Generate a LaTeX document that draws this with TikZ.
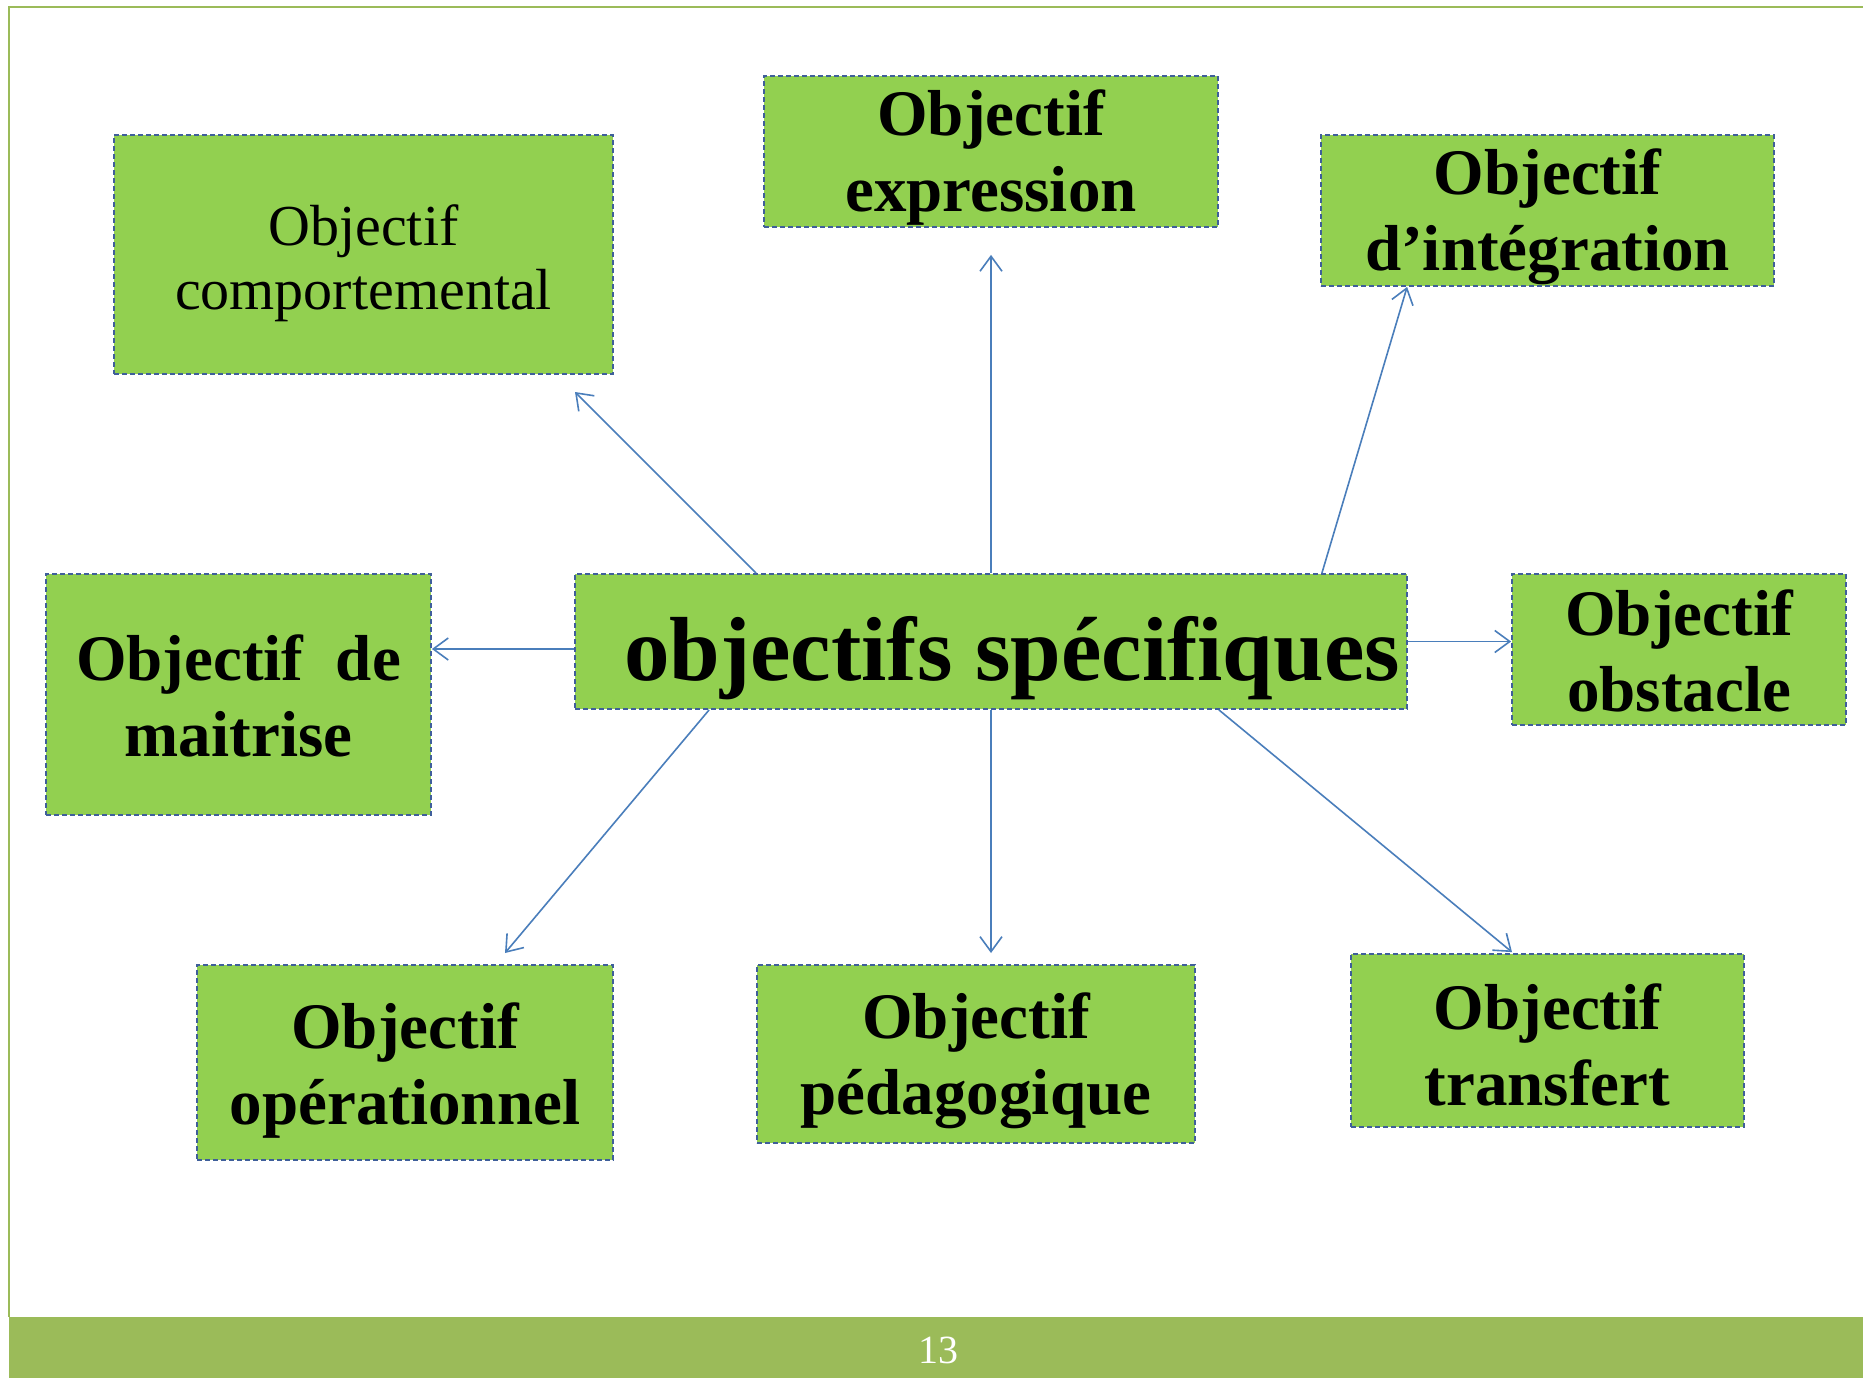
\documentclass[tikz,border=0pt]{standalone}
\usepackage{fontspec}
\setmainfont{Liberation Serif}
\usetikzlibrary{arrows.meta}
\definecolor{boxfill}{HTML}{92D050}
\definecolor{boxline}{HTML}{3F5F9A}
\definecolor{arrowblue}{HTML}{4A7EBB}
\definecolor{framegreen}{HTML}{9BBB59}
\begin{document}
\begin{tikzpicture}[x=1pt,y=-1pt,
  obj/.style={draw=boxline, fill=boxfill, line width=1.8pt, dash pattern=on 5pt off 3pt, inner sep=0pt},
  lbl/.style={align=center, inner sep=0pt, text=black, font=\fontsize{65}{76}\selectfont\bfseries},
  arr/.style={draw=arrowblue, line width=1.6pt, -{Straight Barb[length=15pt,width=22pt,line width=1.6pt]}}]
\useasboundingbox (0,0) rectangle (1863,1378);
\fill[white] (0,0) rectangle (1863,1378);
% frame and footer
\draw[framegreen, line width=2pt] (1863,7) -- (9,7) -- (9,1317);
\fill[framegreen] (9,1317) rectangle (1863,1378);
\node[text=white, font=\fontsize{40}{44}\selectfont] (page) at (938,1350) {13};
% boxes
\node[obj, minimum width=499pt, minimum height=239pt] (comp) at (363.5,254.5) {};
\node[lbl, font=\fontsize{58}{64}\selectfont\mdseries] (compt) at ([yshift=-9pt]comp.center) {Objectif\\comportemental};
\node[obj, minimum width=454pt, minimum height=151pt] (expr) at (991,151.5) {};
\node[lbl] (exprt) at ([yshift=-6pt]expr.center) {Objectif\\expression};
\node[obj, minimum width=453pt, minimum height=151pt] (integ) at (1547.5,210.5) {};
\node[lbl] (integt) at ([yshift=-6pt]integ.center) {Objectif\\d’intégration};
\node[obj, minimum width=385pt, minimum height=241pt] (mait) at (238.5,694.5) {};
\node[lbl] (maitt) at ([yshift=-1pt]mait.center) {Objectif\hspace{0.5em}de\\maitrise};
\node[obj, minimum width=832pt, minimum height=135pt] (c) at (991,641.5) {};
\node[font=\fontsize{91}{96}\selectfont\bfseries, anchor=base, inner sep=0pt] (ctext) at (1012,680) {objectifs spécifiques};
\node[obj, minimum width=334pt, minimum height=151pt] (obst) at (1679,649.5) {};
\node[lbl] (obstt) at ([yshift=-1pt]obst.center) {Objectif\\obstacle};
\node[obj, minimum width=416pt, minimum height=195pt] (oper) at (405,1062.5) {};
\node[lbl] (opert) at ([yshift=-8pt]oper.center) {Objectif\\opérationnel};
\node[obj, minimum width=438pt, minimum height=178pt] (peda) at (976,1054) {};
\node[lbl] (pedat) at ([yshift=-7pt]peda.center) {Objectif\\pédagogique};
\node[obj, minimum width=393pt, minimum height=173pt] (transf) at (1547.5,1040.5) {};
\node[lbl] (transft) at ([yshift=-4pt]transf.center) {Objectif\\transfert};
% free ends
\coordinate (t1) at (575,392);
\coordinate (t6) at (505,953);
\coordinate (t7) at (991,953);
% arrows
\draw[arr] ([xshift=182pt]c.north west) -- (t1);
\draw[arr] (c.north) -- ([yshift=-27pt]expr.south);
\draw[arr] ([xshift=-86pt]c.north east) -- ([xshift=87pt]integ.south west);
\draw[arr] ([yshift=-7.5pt]c.west) -- ([yshift=-7.5pt]c.west -| mait.east);
\draw[arr] (c.east) -- (c.east -| obst.west);
\draw[arr] ([xshift=135pt]c.south west) -- (t6);
\draw[arr] (c.south) -- (t7);
\draw[arr] ([xshift=-189pt]c.south east) -- ([xshift=-35.5pt,yshift=1pt]transf.north);
\end{tikzpicture}
\end{document}
